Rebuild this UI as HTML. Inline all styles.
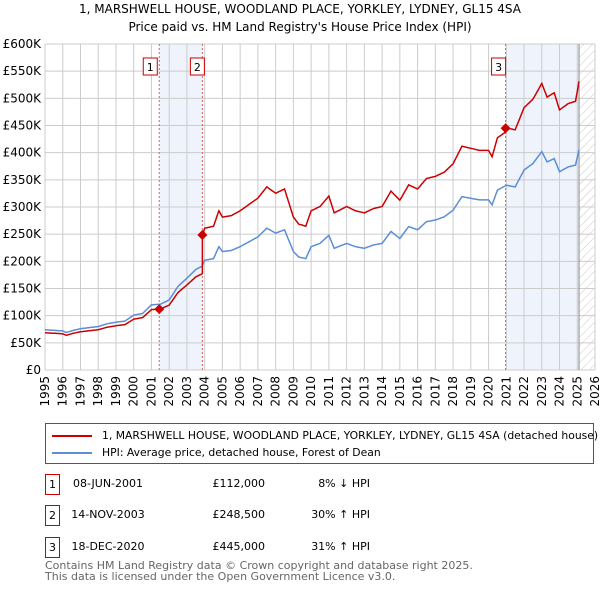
<!DOCTYPE html>
<html><head><meta charset="utf-8"><style>
body{margin:0;background:#fff;font-family:"DejaVu Sans","Liberation Sans",sans-serif;}
#wrap{position:relative;width:600px;height:590px;overflow:hidden;}
.t{position:absolute;font-size:12px;color:#000;white-space:nowrap;}
</style></head><body>
<div id="wrap">
<div class="t" style="left:0;width:600px;text-align:center;top:2px;font-size:12px;">1, MARSHWELL HOUSE, WOODLAND PLACE, YORKLEY, LYDNEY, GL15 4SA</div>
<div class="t" style="left:0;width:600px;text-align:center;top:20px;font-size:12px;">Price paid vs. HM Land Registry's House Price Index (HPI)</div>
<svg id="chart" width="600" height="410" style="position:absolute;left:0;top:0;font-family:'DejaVu Sans',sans-serif"></svg>
<div style="position:absolute;left:45px;top:423px;width:549px;height:41px;border:1px solid #555;box-sizing:border-box;">
 <div style="position:absolute;left:6px;top:5px;font-size:10.8px;white-space:nowrap;"><span style="display:inline-block;width:40px;height:2px;background:#cc0000;vertical-align:middle;margin-right:10px"></span>1, MARSHWELL HOUSE, WOODLAND PLACE, YORKLEY, LYDNEY, GL15 4SA (detached house)</div>
 <div style="position:absolute;left:6px;top:22px;font-size:10.8px;white-space:nowrap;"><span style="display:inline-block;width:40px;height:2px;background:#5b8ed6;vertical-align:middle;margin-right:10px"></span>HPI: Average price, detached house, Forest of Dean</div>
</div>
<div id="tbl"></div>
<div class="t" style="left:45px;top:560px;font-size:11px;color:#666;line-height:11px;">Contains HM Land Registry data © Crown copyright and database right 2025.<br>This data is licensed under the Open Government Licence v3.0.</div>
</div>
<script>
const hpiYears=[1995,1995.5,1996,1996.2,1996.6,1997,1997.5,1998,1998.5,1999,1999.5,2000,2000.5,2001,2001.5,2002,2002.5,2003,2003.5,2003.85,2004,2004.5,2004.8,2005,2005.5,2006,2006.5,2007,2007.5,2008,2008.5,2009,2009.3,2009.7,2010,2010.5,2011,2011.3,2012,2012.5,2013,2013.5,2014,2014.5,2015,2015.5,2016,2016.5,2017,2017.5,2018,2018.5,2019,2019.5,2020,2020.2,2020.5,2021,2021.5,2022,2022.5,2023,2023.3,2023.7,2024,2024.5,2024.9,2025.1];
const hpiValues=[74,73,72,69,73,76,78,80,85,88,90,101,104,120,121,129,154,169,185,191,202,205,227,218,220,227,236,245,261,252,258,218,208,205,227,233,248,224,233,227,224,230,233,255,242,264,258,273,276,282,294,319,316,313,313,304,331,340,337,368,380,402,383,389,365,374,377,405];
const saleLabels=["1","2","3"];
const saleDates=["08-JUN-2001","14-NOV-2003","18-DEC-2020"];
const saleYears=[2001.44,2003.87,2020.96];
const salePrices=[112,248.5,445];
const saleHpiText=["8% ↓ HPI","30% ↑ HPI","31% ↑ HPI"];
const yTicks=[0,50,100,150,200,250,300,350,400,450,500,550,600];
const xTicks=[1995,1996,1997,1998,1999,2000,2001,2002,2003,2004,2005,2006,2007,2008,2009,2010,2011,2012,2013,2014,2015,2016,2017,2018,2019,2020,2021,2022,2023,2024,2025,2026];
const NS="http://www.w3.org/2000/svg";
const svg=document.getElementById('chart');
const X0=45,X1=595,Y0=370,Y1=44;
const xs=y=>X0+(y-1995)/31*(X1-X0);
const ys=v=>Y0-v/600*(Y0-Y1);
function mk(t,a){const e=document.createElementNS(NS,t);for(const k in a)e.setAttribute(k,a[k]);svg.appendChild(e);return e;}
function hpiAt(t){for(let i=0;i<hpiYears.length-1;i++){if(t<=hpiYears[i+1]){const f=(t-hpiYears[i])/(hpiYears[i+1]-hpiYears[i]);return hpiValues[i]+f*(hpiValues[i+1]-hpiValues[i]);}}return hpiValues[hpiValues.length-1];}
let r=mk('rect',{x:xs(saleYears[0]),y:Y1,width:xs(saleYears[1])-xs(saleYears[0]),height:Y0-Y1,fill:'#eef3fc'});

r=mk('rect',{x:xs(saleYears[2]),y:Y1,width:xs(2025.1)-xs(saleYears[2]),height:Y0-Y1,fill:'#eef3fc'});

const defs=mk('defs',{});defs.innerHTML='<pattern id="hatch" width="6" height="6" patternUnits="userSpaceOnUse" patternTransform="rotate(45)"><line x1="0" y1="0" x2="0" y2="6" stroke="#bbb" stroke-width="0.8"/></pattern>';
r=mk('rect',{x:xs(2025.1),y:Y1,width:X1-xs(2025.1),height:Y0-Y1,fill:'url(#hatch)'});

yTicks.forEach(v=>{const l=mk('line',{x1:X0,x2:X1,y1:ys(v),y2:ys(v),stroke:'#ccc','stroke-width':1});

const t=mk('text',{x:X0-4,y:ys(v)+4,'text-anchor':'end','font-size':12,fill:'#000'});t.textContent=v===0?'£0':'£'+v+'K';
});
xTicks.forEach(y=>{const l=mk('line',{x1:xs(y),x2:xs(y),y1:Y1,y2:Y0,stroke:'#ccc','stroke-width':1});

const t=mk('text',{transform:`translate(${xs(y)+4},${Y0+6}) rotate(-90)`,'text-anchor':'end','font-size':12,fill:'#000'});t.textContent=y;
});
let l=mk('line',{x1:xs(2025.1),x2:xs(2025.1),y1:Y1,y2:Y0,stroke:'#888','stroke-width':1});

saleYears.forEach((s,i)=>{const d=mk('line',{x1:xs(s),x2:xs(s),y1:Y1,y2:Y0,stroke:'#e06060','stroke-width':1,'stroke-dasharray':'2,2'});

const b=mk('rect',{x:xs(s)-16,y:58,width:14,height:17,fill:'#fff',stroke:'#cc0000'});
if(i>0)b.setAttribute('x',xs(s)-9+(i===1?-3:-5));

const t=mk('text',{x:+b.getAttribute('x')+7,y:71,'text-anchor':'middle','font-size':11,fill:'#000'});t.textContent=saleLabels[i];
});
let hp='',rp='';
const ratio=t=>{let k=-1;saleYears.forEach((s,i)=>{if(t>=s)k=i;});const j=k<0?0:k;return salePrices[j]/hpiAt(saleYears[j]);};
const pts=[];
for(let t=1995;t<=2025.1+1e-9;t+=1/24)pts.push(t);
saleYears.forEach(s=>{pts.push(s-1e-4);pts.push(s);});
hpiYears.forEach(y=>pts.push(y));
pts.sort((a,b)=>a-b);
pts.forEach((t,i)=>{const h=hpiAt(t);hp+=(i?'L':'M')+xs(t).toFixed(1)+','+ys(h).toFixed(1);rp+=(i?'L':'M')+xs(t).toFixed(1)+','+ys(h*ratio(t)).toFixed(1);});
let p=mk('path',{d:hp,fill:'none',stroke:'#5b8ed6','stroke-width':1.5});

p=mk('path',{d:rp,fill:'none',stroke:'#cc0000','stroke-width':1.5});

saleYears.forEach((s,i)=>{const cx=xs(s),cy=ys(salePrices[i]);const m=mk('polygon',{points:`${cx},${cy-5} ${cx+5},${cy} ${cx},${cy+5} ${cx-5},${cy}`,fill:'#cc0000'});
});
const tbl=document.getElementById('tbl');
const rowY=[474,505,537];
saleLabels.forEach((lab,i)=>{
const row=document.createElement('div');row.style.cssText=`position:absolute;left:0;top:${rowY[i]}px;width:600px;height:20px;font-size:11px;white-space:nowrap;`;


row.innerHTML=`<span style="position:absolute;left:45px;top:0;width:13px;height:19px;border:1px solid #cc0000;text-align:center;line-height:19px">${lab}</span><span style="position:absolute;left:63px;width:90px;text-align:center;top:3px">${saleDates[i]}</span><span style="position:absolute;left:185px;width:80px;text-align:right;top:3px">£${(salePrices[i]*1000).toLocaleString('en-GB')}</span><span style="position:absolute;left:270px;width:100px;text-align:right;top:3px">${saleHpiText[i]}</span>`;
tbl.appendChild(row);});
</script>
</body></html>
